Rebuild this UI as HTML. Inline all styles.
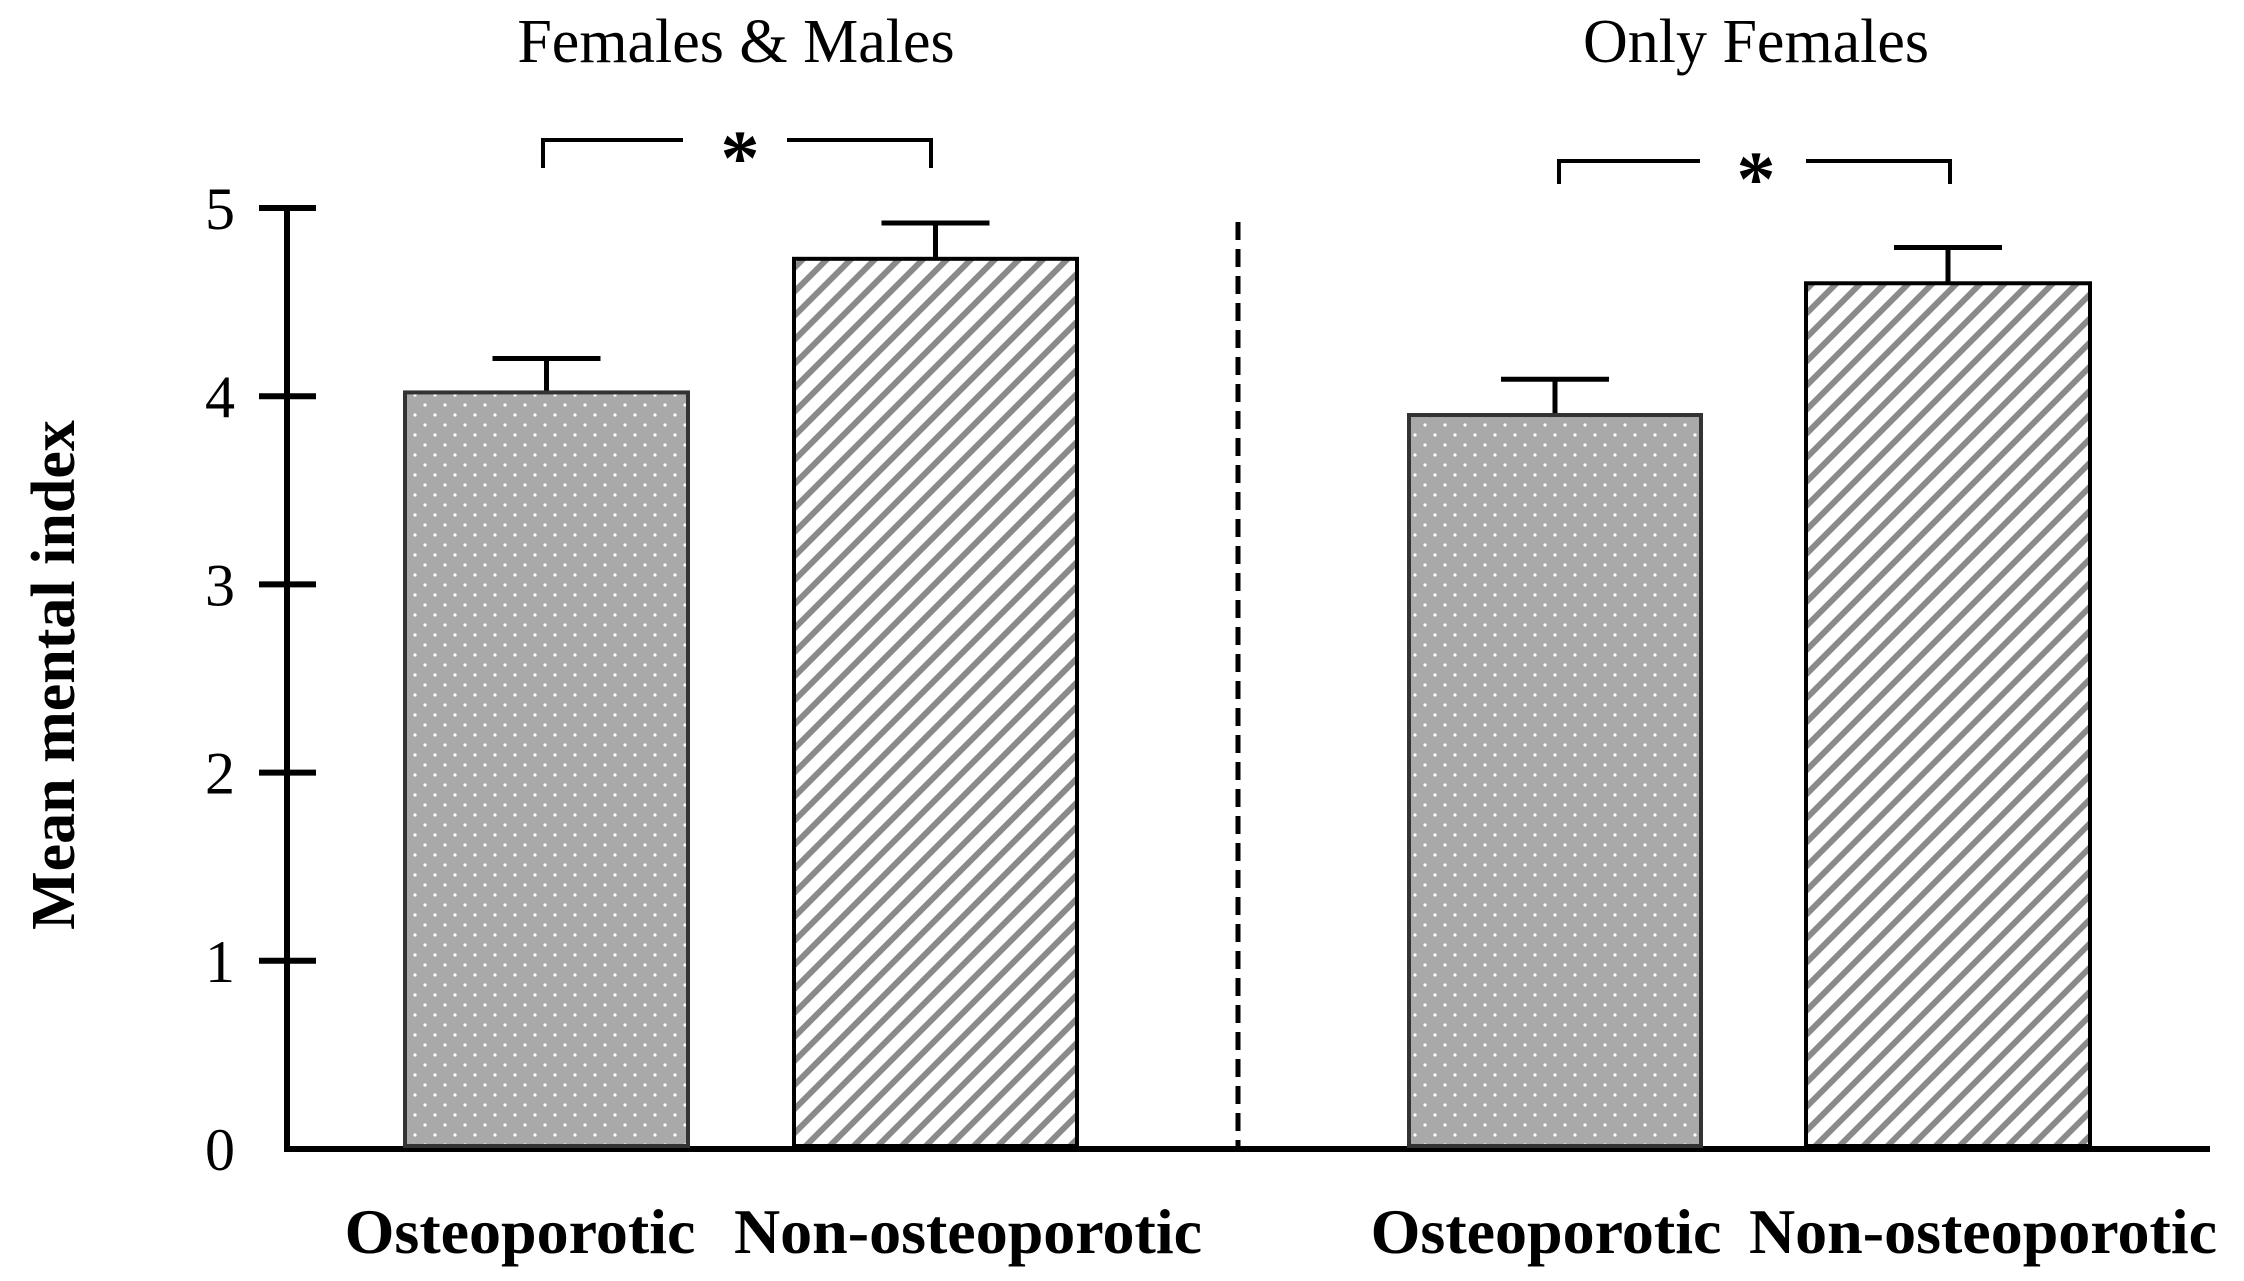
<!DOCTYPE html>
<html><head><meta charset="utf-8"><style>
html,body{margin:0;padding:0;background:#fff;}
svg{display:block;font-family:"Liberation Serif",serif;}
</style></head><body>
<svg id="chart" width="2244" height="1281" viewBox="0 0 2244 1281">
<defs>
<pattern id="dots" width="20" height="20" patternUnits="userSpaceOnUse">
<rect width="20" height="20" fill="#a9a9a9"/>
<circle cx="5" cy="5" r="1.6" fill="#fff"/><circle cx="15" cy="15" r="1.6" fill="#fff"/>
</pattern>
<pattern id="hatch" width="17" height="17" patternUnits="userSpaceOnUse" patternTransform="rotate(45)">
<rect width="17" height="17" fill="#fff"/>
<rect x="0" y="0" width="6" height="17" fill="#8a8a8a"/>
</pattern>
</defs>
<g id="plot"></g>
</svg>
<script>
const categories = ["Osteoporotic","Non-osteoporotic","Osteoporotic","Non-osteoporotic"];
const groups = ["Females & Males","Only Females"];
const means = [4.02, 4.73, 3.90, 4.60];
const errors = [0.18, 0.19, 0.19, 0.19];
const yTicks = [0,1,2,3,4,5];

const NS="http://www.w3.org/2000/svg";
const g=document.getElementById('plot');
const y0=1149, yTop=208, xAxis=287;
function yScale(v){return y0-(y0-yTop)*v/5;}
const barLeft=[405,794,1409,1806], barW=[283,283,292,284];
const labelX=[520,968,1546,1983];
function el(tag,attrs,parent){const e=document.createElementNS(NS,tag);for(const k in attrs)e.setAttribute(k,attrs[k]);(parent||g).appendChild(e);return e;}

let a=el('line',{x1:xAxis,y1:yTop,x2:xAxis,y2:y0,stroke:'#000','stroke-width':6});


yTicks.forEach(t=>{
  if(t>0){
    const tk=el('line',{x1:259,x2:316,y1:yScale(t),y2:yScale(t),stroke:'#000','stroke-width':6});
    
    
  }
  const tl=el('text',{x:220,y:yScale(t)+21,'font-size':60,'text-anchor':'middle',fill:'#000'});
  tl.textContent=t;
  
  
});
let b=el('line',{x1:xAxis-3,y1:y0,x2:2210,y2:y0,stroke:'#000','stroke-width':6});


let yt=el('text',{x:0,y:0,'font-size':62,'font-weight':'bold','text-anchor':'middle',transform:'translate(74,675) rotate(-90)'});
yt.textContent='Mean mental index';


let d=el('line',{x1:1238,y1:222,x2:1238,y2:y0,stroke:'#000','stroke-width':5,'stroke-dasharray':'18,9'});



means.forEach((m,i)=>{
  const x=barLeft[i], w=barW[i], cx=x+w/2;
  const top=yScale(m), et=yScale(m+errors[i]);
  const eb=el('line',{x1:cx,x2:cx,y1:top,y2:et,stroke:'#000','stroke-width':5});
  
  
  const ec=el('line',{x1:cx-54,x2:cx+54,y1:et,y2:et,stroke:'#000','stroke-width':5});
  
  
  const r=el('rect',{x:x,y:top,width:w,height:y0-3-top,fill:(i%2===0?'url(#dots)':'url(#hatch)'),stroke:i%2===0?'#333':'#000','stroke-width':4});
  
  
  const xl=el('text',{x:labelX[i],y:1253,'font-size':64,'font-weight':'bold','text-anchor':'middle'});
  xl.textContent=categories[i];
  
  
});
const titleX=[736,1756];
const brk=[[543,931,140,168,683,787,740],[1559,1950,161,184,1700,1806,1756]];
groups.forEach((name,k)=>{
  const t=el('text',{x:titleX[k],y:62,'font-size':62,'text-anchor':'middle'});
  t.textContent=name;
  
  
  const [x1,x2,yb,yd,g1,g2,sx]=brk[k];
  const p=el('path',{d:`M${x1},${yd} V${yb} H${g1} M${g2},${yb} H${x2} V${yd}`,fill:'none',stroke:'#000','stroke-width':4});
  
  
  const s=el('text',{x:sx,y:yb+44,'font-size':78,'font-weight':'bold','text-anchor':'middle'});
  s.textContent='*';
  
  
});
</script>
</body></html>
